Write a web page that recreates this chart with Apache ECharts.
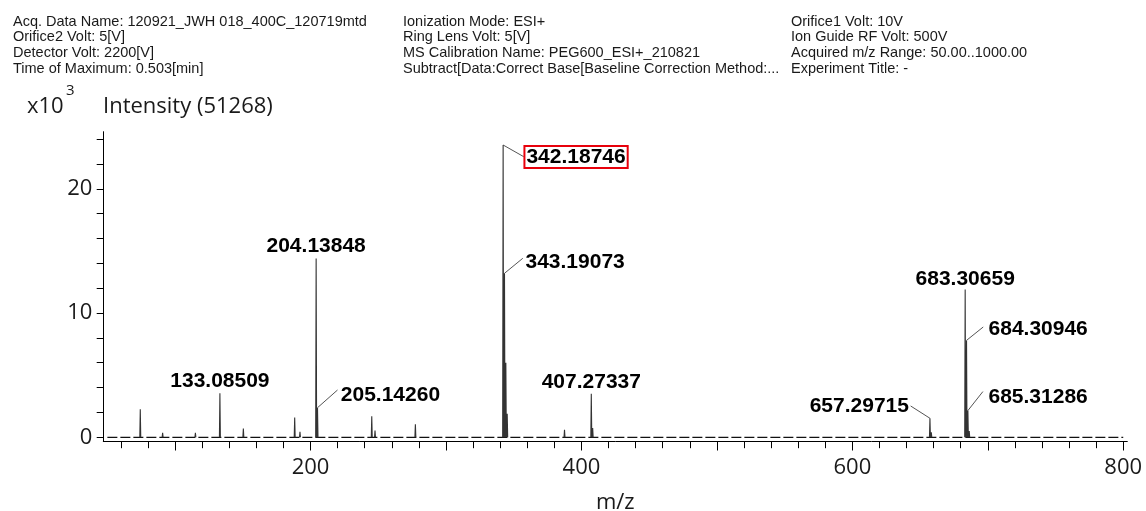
<!DOCTYPE html>
<html>
<head>
<meta charset="utf-8">
<script src="https://cdn.jsdelivr.net/npm/echarts@6/dist/echarts.min.js"></script>
<style>
  html, body { margin: 0; padding: 0; background: #fff; }
  #chart { width: 1146px; height: 511px; }
</style>
</head>
<body>
<div id="chart"></div>
<script>
// Acquisition metadata, three columns of header text
const headerCol1 = [
  'Acq. Data Name: 120921_JWH 018_400C_120719mtd',
  'Orifice2 Volt: 5[V]',
  'Detector Volt: 2200[V]',
  'Time of Maximum: 0.503[min]'
];
const headerCol2 = [
  'Ionization Mode: ESI+',
  'Ring Lens Volt: 5[V]',
  'MS Calibration Name: PEG600_ESI+_210821',
  'Subtract[Data:Correct Base[Baseline Correction Method:...'
];
const headerCol3 = [
  'Orifice1 Volt: 10V',
  'Ion Guide RF Volt: 500V',
  'Acquired m/z Range: 50.00..1000.00',
  'Experiment Title: -'
];
const intensityTitle = 'Intensity (51268)';

// Labelled peaks: m/z and intensity (x10^3)
const labelledMz = [133.08509, 204.13848, 205.14260, 342.18746, 343.19073, 407.27337, 657.29715, 683.30659, 684.30946, 685.31286];
const labelledIntensity = [3.55, 14.4, 2.38, 23.53, 13.2, 3.5, 1.53, 11.9, 7.8, 2.15];

// Minor, unlabelled peaks
const minorMz = [74.3, 90.8, 115.0, 150.4, 188.3, 192.2, 245.2, 247.6, 277.4, 344.19, 345.2, 387.5, 408.3, 658.3, 686.3];
const minorIntensity = [2.25, 0.35, 0.35, 0.7, 1.6, 0.45, 1.7, 0.55, 1.05, 6.0, 1.9, 0.6, 0.75, 0.4, 0.5];

// Baseline extent (m/z)
const baselineMz = [50, 800];

// Axis ticks and labels
const xMajorTicks = [100, 200, 300, 400, 500, 600, 700, 800];
const xMinorTicks = [60, 80, 120, 140, 160, 180, 220, 240, 260, 280, 320, 340, 360, 380, 420, 440, 460, 480, 520, 540, 560, 580, 620, 640, 660, 680, 720, 740, 760, 780];
const xTickLabels = [200, 400, 600, 800];
const yTicks = [0, 2, 4, 6, 8, 10, 12, 14, 16, 18, 20, 22, 24];
const yTickLabels = [0, 10, 20];

// ---- stick spectrum ----
const HALF = 0.35;
const allPeaks = labelledMz.map((m, i) => [m, labelledIntensity[i]])
  .concat(minorMz.map((m, i) => [m, minorIntensity[i]]))
  .sort((a, b) => a[0] - b[0]);
const stickData = [];
allPeaks.forEach(([m, h]) => {
  stickData.push([m - HALF, 0], [m, h], [m + HALF, 0], [m + HALF, '-']);
});

// Peak label placement, in pixels relative to the peak apex:
// text = anchor of the text, line = end of the leader line (if any)
const labelPlacement = [
  { align: 'center', text: [0, -11.5] },
  { align: 'center', text: [0, -12] },
  { align: 'left', line: [20, -17.7], text: [23.3, -12.7] },
  { align: 'left', line: [20.6, 11.7], text: [21.3, 12], boxed: true },
  { align: 'left', line: [18.3, -15], text: [21, -11] },
  { align: 'center', text: [0, -11.5] },
  { align: 'right', line: [-19.3, -12.3], text: [-21, -11.6] },
  { align: 'center', text: [0, -10.5] },
  { align: 'left', line: [16.7, -13.4], text: [22, -11] },
  { align: 'left', line: [15, -19], text: [20.6, -13.2] }
];

function renderPeakLabel(params, api) {
  const mz = api.value(0);
  const pt = api.coord([mz, api.value(1)]);
  const p = labelPlacement[params.dataIndex];
  const children = [];
  if (p.line) {
    children.push({
      type: 'line',
      shape: { x1: pt[0], y1: pt[1], x2: pt[0] + p.line[0], y2: pt[1] + p.line[1] },
      style: { stroke: '#555', lineWidth: 1 }
    });
  }
  const textStyle = {
    text: mz.toFixed(5),
    font: 'bold 21px "Liberation Sans"',
    fill: '#000',
    align: p.align,
    verticalAlign: 'middle'
  };
  if (p.boxed) {
    Object.assign(textStyle, { borderColor: '#e8000b', borderWidth: 2, padding: [1, 2, 0, 2] });
  }
  children.push({ type: 'text', x: pt[0] + p.text[0], y: pt[1] + p.text[1], style: textStyle });
  return { type: 'group', children };
}

const axisFont = { fontFamily: 'Open Sans', fontSize: 22, color: '#1a1a1a' };
const headerStyle = { font: '14.5px "Liberation Sans"', fill: '#1a1a1a', lineHeight: 15.6 };

const chart = echarts.init(document.getElementById('chart'), null, { renderer: 'canvas' });
chart.setOption({
  animation: false,
  backgroundColor: '#fff',
  grid: { left: 103.3, right: 18.7, top: 131.7, bottom: 69.5, containLabel: false, outerBoundsMode: 'none' },
  graphic: [
    { type: 'text', left: 13, top: 13.9, style: { text: headerCol1.join('\n'), ...headerStyle } },
    { type: 'text', left: 403, top: 13.9, style: { text: headerCol2.join('\n'), ...headerStyle } },
    { type: 'text', left: 791, top: 13.9, style: { text: headerCol3.join('\n'), ...headerStyle } },
    { type: 'text', left: 27, top: 96, style: { text: 'x10', font: '22px "Open Sans"', fill: '#1a1a1a' } },
    { type: 'text', left: 66, top: 83, style: { text: '3', font: '15px "Open Sans"', fill: '#1a1a1a' } },
    { type: 'text', left: 103, top: 96, style: { text: intensityTitle, font: '22px "Open Sans"', fill: '#1a1a1a' } }
  ],
  xAxis: [
    {
      type: 'value', min: 47, max: 803, position: 'bottom',
      axisLine: { show: true, onZero: false, lineStyle: { color: '#000', width: 1 } },
      axisTick: { show: true, customValues: xMajorTicks, length: 9, lineStyle: { color: '#000' } },
      axisLabel: { show: true, customValues: xTickLabels, margin: 15, ...axisFont },
      splitLine: { show: false },
      name: 'm/z', nameLocation: 'middle', nameGap: 50,
      nameTextStyle: { ...axisFont }
    },
    {
      type: 'value', min: 47, max: 803, position: 'bottom',
      axisLine: { show: false, onZero: false },
      axisTick: { show: true, customValues: xMinorTicks, length: 6.7, lineStyle: { color: '#000' } },
      axisLabel: { show: false },
      splitLine: { show: false }
    }
  ],
  yAxis: {
    type: 'value', min: -0.34, max: 24.6,
    axisLine: { show: true, onZero: false, lineStyle: { color: '#000', width: 1 } },
    axisTick: { show: true, customValues: yTicks, length: 6.6, lineStyle: { color: '#000' } },
    axisLabel: { show: true, customValues: yTickLabels, margin: 11, ...axisFont },
    splitLine: { show: false }
  },
  series: [
    {
      type: 'line', name: 'baseline', xAxisIndex: 0,
      data: baselineMz.map(m => [m, 0]),
      symbol: 'none', silent: true,
      lineStyle: { color: '#111', width: 1.3, type: [10, 3] }
    },
    {
      type: 'line', name: 'spectrum', xAxisIndex: 0,
      data: stickData, connectNulls: false,
      symbol: 'none', silent: true,
      lineStyle: { color: '#333', width: 1.1 }
    },
    {
      type: 'custom', name: 'peak labels', xAxisIndex: 0,
      data: labelledMz.map((m, i) => [m, labelledIntensity[i]]),
      encode: { x: 0, y: 1 },
      renderItem: renderPeakLabel,
      silent: true, clip: false
    }
  ]
});
</script>
</body>
</html>
